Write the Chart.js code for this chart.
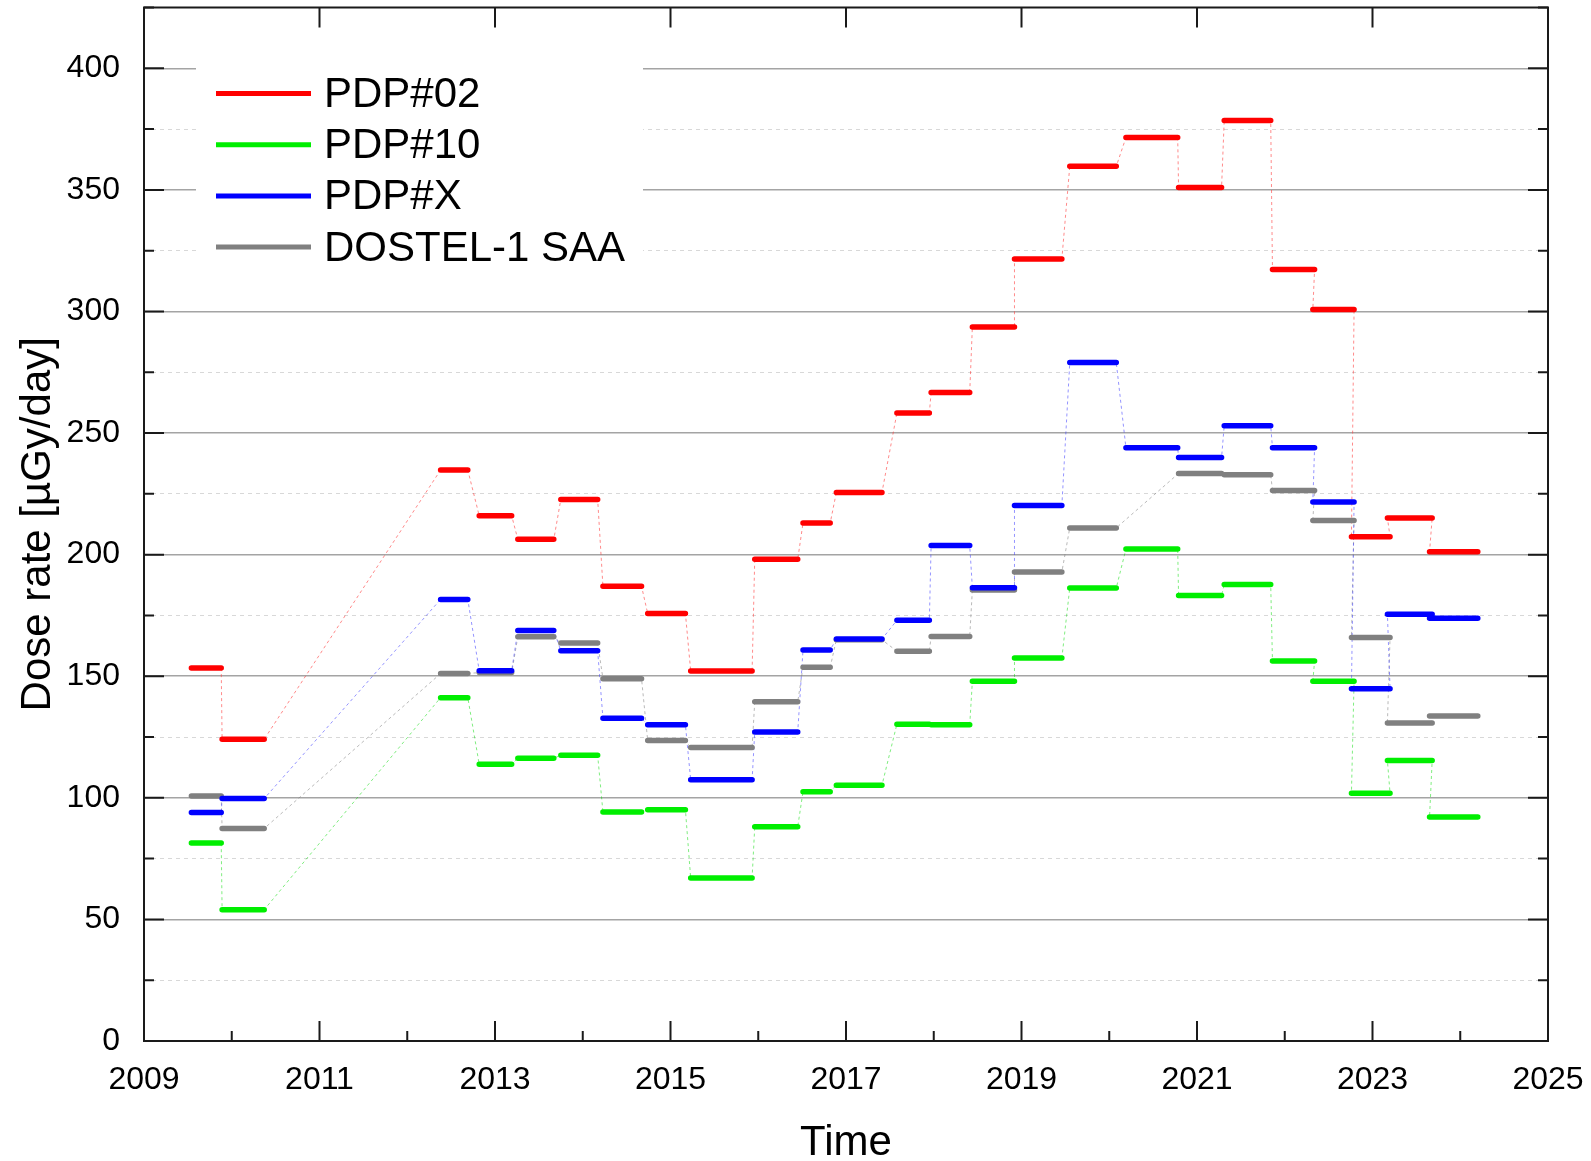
<!DOCTYPE html>
<html>
<head>
<meta charset="utf-8">
<title>Dose rate</title>
<script src="https://cdn.jsdelivr.net/npm/chart.js@4.4.1/dist/chart.umd.min.js"></script>
<style>
  html, body { margin: 0; padding: 0; background: #fff; overflow: hidden; }
  canvas { display: block; }
</style>
</head>
<body>
<canvas id="c" width="1591" height="1161"></canvas>
<script>
// Measurement periods (decimal years): start and end of each averaging interval
const periodStart = [2009.54, 2009.89, 2012.38, 2012.82, 2013.26, 2013.75, 2014.23, 2014.74, 2015.23, 2015.96,
                     2016.51, 2016.89, 2017.58, 2017.97, 2018.44, 2018.92, 2019.55, 2020.19, 2020.79, 2021.31,
                     2021.86, 2022.32, 2022.76, 2023.17, 2023.65];
const periodEnd   = [2009.88, 2010.37, 2012.69, 2013.19, 2013.67, 2014.17, 2014.67, 2015.17, 2015.93, 2016.45,
                     2016.82, 2017.41, 2017.95, 2018.41, 2018.92, 2019.46, 2020.08, 2020.78, 2021.28, 2021.84,
                     2022.34, 2022.79, 2023.20, 2023.68, 2024.20];

// Dose rates in µGy/day per period
const pdp02     = [153.4, 124.1, 234.8, 216.0, 206.3, 222.7, 187.0, 175.8, 152.2, 198.1,
                   213.0, 225.6, 258.2, 266.7, 293.6, 321.6, 359.7, 371.5, 351.0, 378.5,
                   317.3, 300.8, 207.4, 215.1, 201.2];
const pdp10     = [81.4, 54.0, 141.2, 113.8, 116.3, 117.5, 94.2, 95.1, 67.0, 88.1,
                   102.5, 105.2, 130.3, 130.0, 147.9, 157.5, 186.3, 202.3, 183.2, 187.7,
                   156.3, 147.9, 101.9, 115.3, 92.1];
const pdpX      = [94.0, 99.7, 181.6, 152.3, 168.8, 160.5, 132.7, 130.0, 107.4, 127.1,
                   160.8, 165.3, 173.0, 203.8, 186.4, 220.2, 279.0, 244.0, 239.9, 253.0,
                   244.0, 221.6, 144.9, 175.5, 173.8];
const dostelSaa = [100.7, 87.4, 151.1, 151.5, 166.2, 163.7, 149.0, 123.6, 120.7, 139.5,
                   153.7, 165.0, 160.3, 166.3, 185.5, 192.9, 211.0, null, 233.4, 232.9,
                   226.4, 214.0, 165.9, 130.8, 133.6];

const seriesNames  = ['PDP#02', 'PDP#10', 'PDP#X', 'DOSTEL-1 SAA'];
const seriesValues = [pdp02, pdp10, pdpX, dostelSaa];
const seriesColors = ['#ff0000', '#00ee00', '#0000ff', '#808080'];
const linkColors   = ['rgba(255,60,60,0.6)', 'rgba(0,220,0,0.5)', 'rgba(60,60,255,0.55)', 'rgba(128,128,128,0.55)'];
const drawOrder    = [1, 3, 2, 4];

const xTickYears = [2009, 2011, 2013, 2015, 2017, 2019, 2021, 2023, 2025];
const xMinorYears = [2010, 2012, 2014, 2016, 2018, 2020, 2022, 2024];

// Horizontal bars: one sub-path per period, broken by null points
function barPoints(values) {
  const pts = [];
  values.forEach((v, i) => {
    if (v === null) return;
    pts.push({x: periodStart[i], y: v}, {x: periodEnd[i], y: v}, {x: periodEnd[i], y: null});
  });
  return pts;
}
// Thin connecting line through all period ends
function linkPoints(values) {
  const pts = [];
  values.forEach((v, i) => {
    if (v === null) return;
    pts.push({x: periodStart[i], y: v}, {x: periodEnd[i], y: v});
  });
  return pts;
}

const datasets = [];
seriesValues.forEach((vals, k) => {
  datasets.push({
    label: seriesNames[k],
    data: barPoints(vals),
    borderColor: seriesColors[k],
    borderWidth: 5.5,
    borderCapStyle: 'round',
    pointRadius: 0,
    spanGaps: false,
    order: drawOrder[k]
  });
});
seriesValues.forEach((vals, k) => {
  datasets.push({
    label: seriesNames[k] + ' link',
    data: linkPoints(vals),
    borderColor: linkColors[k],
    borderWidth: 1,
    borderDash: [3, 3],
    pointRadius: 0,
    spanGaps: true,
    order: 10 + k
  });
});

const FONT = "'Liberation Sans', Arial, sans-serif";

// Frame with inward ticks on all four sides
const framePlugin = {
  id: 'frame',
  afterDraw(chart) {
    const {ctx, chartArea: a, scales} = chart;
    const xs = scales.x, ys = scales.y;
    ctx.save();
    ctx.strokeStyle = '#1a1a1a';
    ctx.lineWidth = 2;
    ctx.lineCap = 'butt';
    ctx.beginPath();
    for (let v = 0; v <= 425; v += 25) {
      const py = ys.getPixelForValue(v);
      const len = v % 50 === 0 ? 20 : 10;
      ctx.moveTo(a.left, py); ctx.lineTo(a.left + len, py);
      ctx.moveTo(a.right, py); ctx.lineTo(a.right - len, py);
    }
    xTickYears.forEach(yr => {
      const px = xs.getPixelForValue(yr);
      ctx.moveTo(px, a.bottom); ctx.lineTo(px, a.bottom - 20);
      ctx.moveTo(px, a.top); ctx.lineTo(px, a.top + 20);
    });
    xMinorYears.forEach(yr => {
      const px = xs.getPixelForValue(yr);
      ctx.moveTo(px, a.bottom); ctx.lineTo(px, a.bottom - 10);
    });
    ctx.stroke();
    ctx.strokeRect(a.left, a.top, a.right - a.left, a.bottom - a.top);
    ctx.restore();
  }
};

// Legend drawn inside the plot area, top left
const legendPlugin = {
  id: 'innerLegend',
  afterDraw(chart) {
    const {ctx} = chart;
    ctx.save();
    ctx.fillStyle = '#ffffff';
    ctx.fillRect(196, 45, 447, 235);
    const rowY = [95.5, 146.7, 197.9, 249.1];
    seriesNames.forEach((name, k) => {
      ctx.strokeStyle = seriesColors[k];
      ctx.lineWidth = 5;
      ctx.lineCap = 'butt';
      ctx.beginPath();
      ctx.moveTo(216, rowY[k] - 2);
      ctx.lineTo(311, rowY[k] - 2);
      ctx.stroke();
      ctx.fillStyle = '#000';
      ctx.font = '42px ' + FONT;
      ctx.textBaseline = 'middle';
      ctx.textAlign = 'left';
      ctx.fillText(name, 324, rowY[k]);
    });
    ctx.restore();
  }
};

new Chart(document.getElementById('c'), {
  type: 'line',
  data: {datasets},
  options: {
    responsive: false,
    devicePixelRatio: 1,
    animation: false,
    events: [],
    layout: {padding: {top: 7.5, right: 43, left: 0, bottom: 0}},
    plugins: {legend: {display: false}, tooltip: {enabled: false}},
    scales: {
      x: {
        type: 'linear',
        min: 2009, max: 2025,
        afterBuildTicks: s => { s.ticks = xTickYears.map(v => ({value: v})); },
        afterFit: s => { s.height = 120; s.paddingLeft = 0; s.paddingRight = 0; },
        grid: {display: false, drawTicks: false},
        border: {display: false},
        ticks: {
          autoSkip: false, maxRotation: 0, padding: 20,
          color: '#000', font: {family: FONT, size: 32},
          callback: v => String(v)
        },
        title: {
          display: true, text: 'Time', color: '#000',
          font: {family: FONT, size: 42, lineHeight: 0.85},
          padding: {top: 0, bottom: 0}
        }
      },
      y: {
        type: 'linear',
        min: 0, max: 425,
        afterFit: s => { s.width = 144; s.paddingTop = 0; s.paddingBottom = 0; },
        grid: {
          drawTicks: false,
          color: c => (c.tick && c.tick.value % 50 === 0) ? '#a4a4a4' : '#d8d8d8',
          lineWidth: c => (c.tick && c.tick.value % 50 === 0) ? 1.5 : 1
        },
        border: {
          display: false,
          dash: c => (c.tick && c.tick.value % 50 !== 0) ? [4, 4] : []
        },
        ticks: {
          stepSize: 25, autoSkip: false, padding: 24,
          color: '#000', font: {family: FONT, size: 32},
          callback: v => (v % 50 === 0 ? String(v) : '')
        },
        title: {
          display: true, text: 'Dose rate [µGy/day]', color: '#000',
          font: {family: FONT, size: 42, lineHeight: 1},
          padding: {top: 17, bottom: 0}
        }
      }
    }
  },
  plugins: [framePlugin, legendPlugin]
});
</script>
</body>
</html>
